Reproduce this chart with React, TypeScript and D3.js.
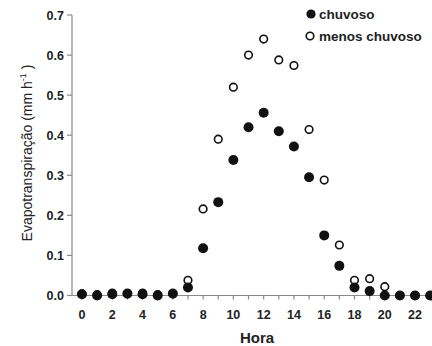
import { useRef, useEffect } from 'react';
import * as d3 from 'd3';

const hours = d3.range(0, 24);
const chuvoso = [0.003, 0.0, 0.003, 0.005, 0.003, 0.0, 0.005, 0.02, 0.118, 0.233, 0.338, 0.42, 0.456, 0.41, 0.372, 0.295, 0.15, 0.074, 0.02, 0.011, 0.0, 0.0, 0.0, 0.0];
const menosChuvoso = [0.004, 0.002, 0.006, 0.004, 0.006, 0.002, 0.004, 0.038, 0.216, 0.39, 0.52, 0.6, 0.64, 0.588, 0.574, 0.414, 0.288, 0.126, 0.038, 0.042, 0.022, 0.0, 0.0, 0.0];
const yTicks = [0, 0.1, 0.2, 0.3, 0.4, 0.5, 0.6, 0.7];
const xTickLabels = d3.range(0, 24, 2);

const W = 432;
const H = 346;
const FONT = '"Liberation Sans", Arial, sans-serif';

export default function App() {
  const svgRef = useRef<SVGSVGElement>(null);

  useEffect(() => {
    const svg = d3.select(svgRef.current);
    svg.selectAll('*').remove();

    const x = d3.scaleLinear().domain([-0.66, 23.12]).range([72, 432]);
    const y = d3.scaleLinear().domain([0, 0.7]).range([295.5, 15]);
    const axisColor = '#8a8a8a';

    // y axis
    svg.append('line')
      .attr('x1', 72).attr('x2', 72)
      .attr('y1', y(0.7)).attr('y2', y(0))
      .attr('stroke', axisColor).attr('stroke-width', 1.2);
    svg.selectAll('line.ytick')
      .data(yTicks)
      .join('line')
      .attr('class', 'ytick')
      .attr('x1', 67).attr('x2', 72)
      .attr('y1', d => y(d)).attr('y2', d => y(d))
      .attr('stroke', axisColor).attr('stroke-width', 1.2);
    svg.selectAll('text.ylab')
      .data(yTicks)
      .join('text')
      .attr('class', 'ylab')
      .attr('x', 64)
      .attr('y', d => y(d))
      .attr('dy', '0.36em')
      .attr('text-anchor', 'end')
      .attr('font-family', FONT)
      .attr('font-weight', 'bold')
      .attr('font-size', 12.5)
      .attr('fill', '#222')
      .text(d => d.toFixed(1));

    // x axis
    svg.append('line')
      .attr('x1', 72).attr('x2', 432)
      .attr('y1', y(0)).attr('y2', y(0))
      .attr('stroke', axisColor).attr('stroke-width', 1.2);
    svg.selectAll('line.xtick')
      .data(hours)
      .join('line')
      .attr('class', 'xtick')
      .attr('x1', d => x(d)).attr('x2', d => x(d))
      .attr('y1', y(0)).attr('y2', y(0) + 4)
      .attr('stroke', axisColor).attr('stroke-width', 1.2);
    svg.selectAll('text.xlab')
      .data(xTickLabels)
      .join('text')
      .attr('class', 'xlab')
      .attr('x', d => x(d))
      .attr('y', 319)
      .attr('text-anchor', 'middle')
      .attr('font-family', FONT)
      .attr('font-weight', 'bold')
      .attr('font-size', 12.5)
      .attr('fill', '#222')
      .text(d => d);

    svg.append('text')
      .attr('x', 257).attr('y', 343)
      .attr('text-anchor', 'middle')
      .attr('font-family', FONT)
      .attr('font-weight', 'bold')
      .attr('font-size', 15)
      .attr('fill', '#222')
      .text('Hora');

    const yl = svg.append('text')
      .attr('transform', 'translate(32,153) rotate(-90)')
      .attr('text-anchor', 'middle')
      .attr('font-family', FONT)
      .attr('font-size', 14)
      .attr('fill', '#222');
    yl.append('tspan').text('Evapotranspiração (mm h');
    yl.append('tspan').attr('dy', -6).attr('font-size', 9).text('-1');
    yl.append('tspan').attr('dy', 6).text(' )');

    // open points (menos chuvoso) drawn first
    svg.selectAll('circle.open')
      .data(hours)
      .join('circle')
      .attr('class', 'open')
      .attr('cx', d => x(d))
      .attr('cy', d => y(menosChuvoso[d]))
      .attr('r', 3.8)
      .attr('fill', '#fff')
      .attr('stroke', '#111')
      .attr('stroke-width', 1.6);

    svg.selectAll('circle.filled')
      .data(hours)
      .join('circle')
      .attr('class', 'filled')
      .attr('cx', d => x(d))
      .attr('cy', d => y(chuvoso[d]))
      .attr('r', 5)
      .attr('fill', '#111');

    // legend
    const lg = svg.append('g').attr('font-family', FONT).attr('font-weight', 'bold').attr('font-size', 13.5).attr('fill', '#222');
    lg.append('circle').attr('cx', 311).attr('cy', 14).attr('r', 4.6).attr('fill', '#111');
    lg.append('text').attr('x', 319).attr('y', 19).text('chuvoso');
    lg.append('circle').attr('cx', 310).attr('cy', 36).attr('r', 3.8).attr('fill', '#fff').attr('stroke', '#111').attr('stroke-width', 1.6);
    lg.append('text').attr('x', 319).attr('y', 41).text('menos chuvoso');
  }, []);

  return (
    <svg
      ref={svgRef}
      width={W}
      height={H}
      style={{ position: 'absolute', left: 0, top: 0, background: '#fff' }}
    />
  );
}
